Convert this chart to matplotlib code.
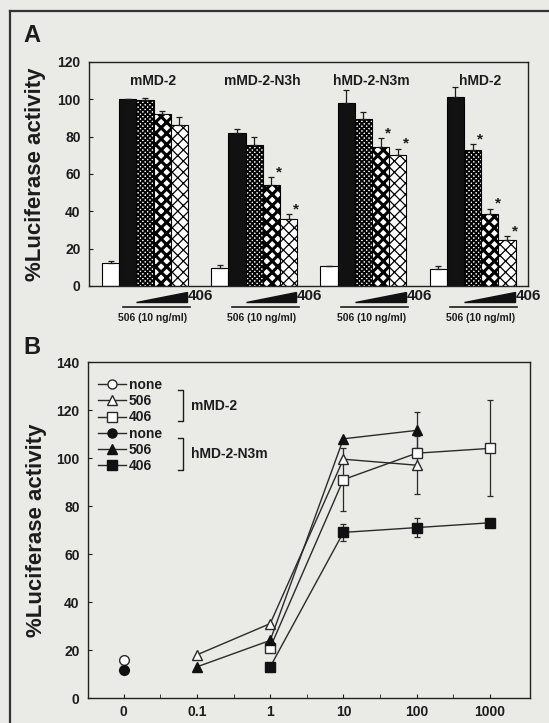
import numpy as np
import matplotlib
matplotlib.use("Agg")
import matplotlib.pyplot as plt
from matplotlib.lines import Line2D

plt.rcParams['font.family'] = ['Liberation Sans', 'DejaVu Sans']
plt.rcParams['font.weight'] = 'bold'
plt.rcParams['axes.labelweight'] = 'bold'

# ---- panel A data ----
groups = ['mMD-2', 'mMD-2-N3h', 'hMD-2-N3m', 'hMD-2']
vals = [[12.4, 100, 99.6, 92.2, 86.5],
        [9.8, 82, 75.4, 54, 36],
        [10.6, 98, 89.5, 74.5, 70],
        [9.2, 101.4, 72.7, 38.7, 24.8]]
errs = [[1.2, 0, 1.1, 1.8, 3.9],
        [1.7, 2, 4.6, 4.5, 2.5],
        [0, 7, 3.9, 4.9, 3.6],
        [1.4, 5.3, 3.2, 2.8, 1.8]]
signif = [[0, 0, 0, 0, 0],
          [0, 0, 0, 1, 1],
          [0, 0, 0, 1, 1],
          [0, 0, 1, 1, 1]]

# ---- panel B data ----
conc_labels = ['0', '0.1', '1', '10', '100', '1000']
m_none_x, m_none_y = [0], [16]
m_506_x, m_506_y, m_506_e = [1, 2, 3, 4], [18, 31, 99.5, 97], [0, 0, 0, 12]
m_406_x, m_406_y, m_406_e = [2, 3, 4, 5], [21, 91, 102, 104], [0, 13, 0, 20]
h_none_x, h_none_y = [0], [11.5]
h_506_x, h_506_y, h_506_e = [1, 2, 3, 4], [13, 24, 108, 111.5], [0, 0, 0, 7.5]
h_406_x, h_406_y, h_406_e = [2, 3, 4, 5], [13, 69, 71, 73], [0, 3.5, 4, 0]

bg = '#eaeae6'
ink = '#1c1c1c'

fig = plt.figure(figsize=(5.49, 7.23), dpi=100, facecolor=bg)

# outer frame (top and left only)
fig.add_artist(Line2D([10/549, 1], [1-11/723, 1-11/723], transform=fig.transFigure, color='#333', lw=1.6))
fig.add_artist(Line2D([10/549, 10/549], [0, 1-11/723], transform=fig.transFigure, color='#333', lw=1.6))

# ================= panel A =================
axA = fig.add_axes([89/549, 1-286/723, 439/549, 224/723], facecolor=bg)
step = 6.35
styles = [dict(facecolor='white', hatch=None, hlw=1.0),
          dict(facecolor='#111111', hatch=None, hlw=1.0),
          dict(facecolor='white', hatch='xxxxxxx', hlw=1.3),
          dict(facecolor='white', hatch='xxx', hlw=2.2),
          dict(facecolor='white', hatch='xxx', hlw=0.9)]

for j, st in enumerate(styles):
    xs = [i*step + j for i in range(len(groups))]
    ys = [v[j] for v in vals]
    plt.rcParams['hatch.linewidth'] = st['hlw']
    bars = axA.bar(xs, ys, width=1.0, align='edge', facecolor=st['facecolor'],
                   edgecolor='black', linewidth=0.8, hatch=st['hatch'], zorder=2)
    for b in bars:
        if hasattr(b, 'set_hatch_linewidth'):
            b.set_hatch_linewidth(st['hlw'])
    up = [e[j] for e in errs]
    axA.errorbar([x + 0.5 for x in xs], ys, yerr=[np.zeros(len(ys)), up], fmt='none',
                 ecolor=ink, elinewidth=0.9, capsize=2, capthick=0.9, zorder=3)
    for i in range(len(groups)):
        if signif[i][j]:
            axA.text(xs[i] + 0.95, ys[i] + up[i] + 2.5, '*', ha='center', va='center',
                     fontsize=11, color=ink)

for i, g in enumerate(groups):
    base = i*step
    axA.text(base + 2.95, 110, g, ha='center', va='center', fontsize=10, color=ink)
    axA.plot([base + 1.2, base + 5.1], [-11.2, -11.2], color=ink, lw=1.2, clip_on=False)
    axA.fill([base + 2.0, base + 4.95, base + 4.95], [-8.4, -8.4, -3.0], color='#111', clip_on=False)
    axA.text(base + 5.0, -5.6, '406', ha='left', va='center', fontsize=11, color=ink)
    axA.text(base + 2.95, -17.2, '506 (10 ng/ml)', ha='center', va='center', fontsize=7.5, color=ink)

axA.set_xlim(-0.756, 24.77)
axA.set_ylim(0, 120)
axA.set_yticks(range(0, 121, 20))
axA.set_xticks([])
axA.tick_params(axis='y', direction='in', length=3, pad=6, labelsize=10, labelcolor=ink, color=ink)
for s in axA.spines.values():
    s.set_color('#222')
    s.set_linewidth(1.0)
axA.set_ylabel('%Luciferase activity', fontsize=16, fontweight='bold', color=ink)
axA.yaxis.set_label_coords(-0.097, 0.5)
fig.text(32/549, 1-35/723, 'A', fontsize=17, fontweight='bold', ha='center', va='center', color=ink)

# ================= panel B =================
axB = fig.add_axes([88/549, 1-698/723, 442/549, 336/723], facecolor=bg)
lc = '#2a2a2a'
kw = dict(color=lc, lw=1.0, ecolor=lc, elinewidth=0.9, capsize=2, capthick=0.9)

def nz(e):
    return [v if v > 0 else np.nan for v in e]

series = [
    (m_none_x, m_none_y, None, 'o', 'white', lc, 7, 'none'),
    (m_506_x, m_506_y, m_506_e, '^', 'white', lc, 7.5, '506'),
    (m_406_x, m_406_y, m_406_e, 's', 'white', lc, 7.5, '406'),
    (h_none_x, h_none_y, None, 'o', '#111', '#111', 7, 'none'),
    (h_506_x, h_506_y, h_506_e, '^', '#111', '#111', 7.5, '506'),
    (h_406_x, h_406_y, h_406_e, 's', '#111', '#111', 7.5, '406'),
]
handles = []
for x, y, e, mk, fc, ec, ms, lab in series:
    axB.errorbar(x, y, yerr=nz(e) if e else None, marker=mk, mfc=fc, mec=ec, ms=ms, **kw)
    handles.append(Line2D([], [], color=lc, lw=1.0, marker=mk, mfc=fc, mec=ec, ms=ms - 0.5, label=lab))

leg = axB.legend(handles=handles, loc='upper left', bbox_to_anchor=((98-88)/442, (698-378)/336),
                 frameon=False, fontsize=10, labelspacing=0.16, handlelength=2.0,
                 handletextpad=0.2, borderpad=0, borderaxespad=0, numpoints=1)
for t in leg.get_texts():
    t.set_color(ink)

def tx(px):
    return (px - 88) / 442

def ty(py):
    return (698 - py) / 336

for (y0, y1, lab) in [(390, 421, 'mMD-2'), (438, 470, 'hMD-2-N3m')]:
    axB.plot([tx(178), tx(183), tx(183), tx(178)], [ty(y0), ty(y0), ty(y1), ty(y1)],
             transform=axB.transAxes, color=ink, lw=1.0)
    axB.text(tx(191), ty((y0 + y1) / 2), lab, transform=axB.transAxes, ha='left', va='center',
             fontsize=10, color=ink)

axB.set_xlim(-0.49, 5.55)
axB.set_ylim(0, 140)
axB.set_xticks(range(len(conc_labels)))
axB.set_xticklabels(conc_labels)
axB.set_xticks([k + 0.5 for k in range(len(conc_labels) - 1)], minor=True)
axB.set_yticks(range(0, 141, 20))
axB.tick_params(axis='both', which='both', direction='in', length=3, color=ink, labelcolor=ink, labelsize=10)
axB.tick_params(axis='y', pad=6)
axB.tick_params(axis='x', pad=5)
for s in axB.spines.values():
    s.set_color('#222')
    s.set_linewidth(1.0)
axB.set_ylabel('%Luciferase activity', fontsize=16, fontweight='bold', color=ink)
axB.yaxis.set_label_coords(-0.093, 0.5)
fig.text(32/549, 1-347/723, 'B', fontsize=17, fontweight='bold', ha='center', va='center', color=ink)

fig.savefig('out.png', dpi=100, facecolor=bg)
